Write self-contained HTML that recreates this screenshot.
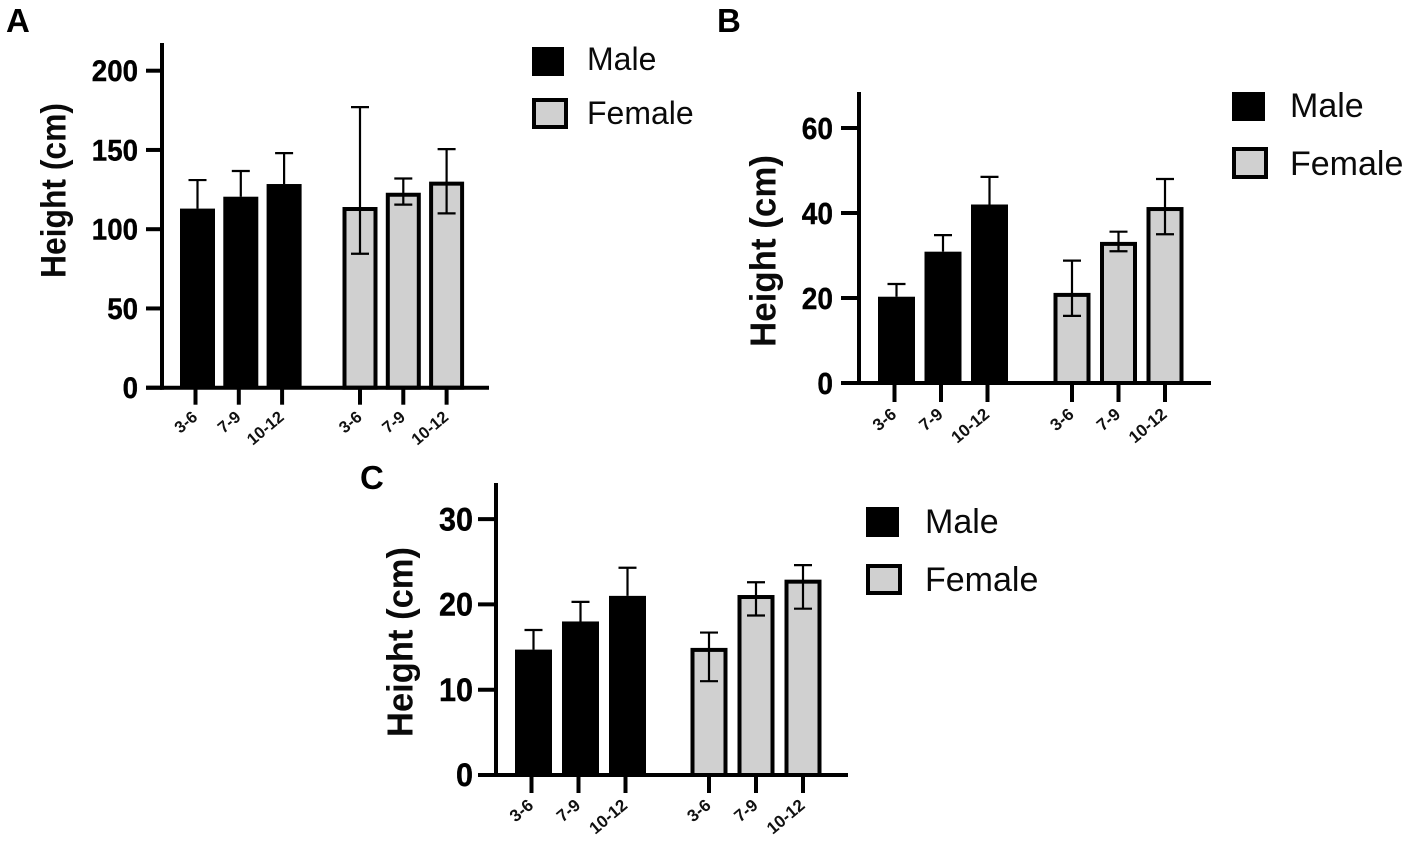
<!DOCTYPE html>
<html lang="en">
<head>
<meta charset="utf-8">
<title>Height by age group and sex</title>
<style>
  html, body { margin: 0; padding: 0; background: #fff; }
  svg { display: block; font-family: "Liberation Sans", Arial, sans-serif; }
  .panel-letter { font-weight: 700; font-size: 33px; fill: #000; }
  .legend-text { font-size: 34px; fill: #0a0a0a; }
  .legend-text-a { font-size: 32px; fill: #0a0a0a; }
</style>
</head>
<body>
<svg id="figure" xmlns="http://www.w3.org/2000/svg" width="1418" height="854" viewBox="0 0 1418 854">
  <rect x="0" y="0" width="1418" height="854" fill="#fff"/>
  <text class="panel-letter" x="6" y="32">A</text>
  <text class="panel-letter" x="717" y="32">B</text>
  <text class="panel-letter" x="360" y="489">C</text>

  <g>
    <rect x="532" y="47" width="32" height="29" fill="#000"/>
    <text class="legend-text-a" x="587" y="70">Male</text>
    <rect x="534" y="100" width="32" height="27" fill="#d0d0d0" stroke="#000" stroke-width="4"/>
    <text class="legend-text-a" x="587" y="124">Female</text>
  </g>
  <g>
    <rect x="1232" y="92" width="33" height="29" fill="#000"/>
    <text class="legend-text" x="1290" y="117">Male</text>
    <rect x="1234" y="149" width="32" height="28" fill="#d0d0d0" stroke="#000" stroke-width="4"/>
    <text class="legend-text" x="1290" y="175">Female</text>
  </g>
  <g>
    <rect x="866" y="507" width="33" height="30" fill="#000"/>
    <text class="legend-text" x="925" y="533">Male</text>
    <rect x="868" y="566" width="32" height="27" fill="#d0d0d0" stroke="#000" stroke-width="4"/>
    <text class="legend-text" x="925" y="591">Female</text>
  </g>
</svg>
<script>
// ---- data ----
const ageGroups = ['3-6', '7-9', '10-12'];
const yAxisTitle = 'Height (cm)';

const ticksA = [0, 50, 100, 150, 200];
const maleA = [113, 120.5, 128.5];
const maleUpperA = [131, 136.7, 148];
const femaleA = [114, 123, 130];
const femaleUpperA = [177, 132, 150.5];
const femaleLowerA = [84.5, 115.5, 110];

const ticksB = [0, 20, 40, 60];
const maleB = [20.3, 30.9, 42];
const maleUpperB = [23.3, 34.8, 48.5];
const femaleB = [21.2, 33.2, 41.4];
const femaleUpperB = [28.8, 35.6, 48];
const femaleLowerB = [15.8, 31, 35];

const ticksC = [0, 10, 20, 30];
const maleC = [14.7, 18, 21];
const maleUpperC = [17, 20.3, 24.3];
const femaleC = [14.9, 21.1, 22.9];
const femaleUpperC = [16.7, 22.6, 24.6];
const femaleLowerC = [11, 18.7, 19.5];

const NS = 'http://www.w3.org/2000/svg';
const root = document.getElementById('figure');

function make(tag, parent, props, text) {
  const el = document.createElementNS(NS, tag);
  Object.keys(props).forEach(function (k) { el.setAttribute(k, props[k]); });
  if (text !== undefined) el.textContent = text;
  parent.appendChild(el);
  return el;
}

function drawPanel(p) {
  const g = make('g', root, {});
  
  

  const yScale = function (v) { return p.y0 - (v - p.ticks[0]) * p.pxPerUnit; };
  const maleX = function (i) { return p.maleStart + i * p.step; };
  const femaleX = function (i) { return p.femaleStart + i * p.step; };

  // male bars
  p.male.forEach(function (v, i) {
    const cx = maleX(i);
    const bar = make('rect', g, { x: cx - p.barW / 2, y: yScale(v), width: p.barW, height: p.y0 - yScale(v), fill: '#000' });
    
    
    const err = make('path', g, {
      d: 'M' + cx + ' ' + yScale(v) + 'V' + yScale(p.maleUpper[i]) + 'M' + (cx - p.cap) + ' ' + yScale(p.maleUpper[i]) + 'H' + (cx + p.cap),
      stroke: '#000', 'stroke-width': 2.2, fill: 'none'
    });
    
    
  });

  // female bars
  p.female.forEach(function (v, i) {
    const cx = femaleX(i);
    const bar = make('rect', g, { x: cx - p.barW / 2 + 2, y: yScale(v) + 2, width: p.barW - 4, height: p.y0 - yScale(v) - 2, fill: '#d0d0d0', stroke: '#000', 'stroke-width': 4 });
    
    
    const up = yScale(p.femaleUpper[i]);
    const lo = yScale(p.femaleLower[i]);
    const err = make('path', g, {
      d: 'M' + cx + ' ' + up + 'V' + lo + 'M' + (cx - p.cap) + ' ' + up + 'H' + (cx + p.cap) + 'M' + (cx - p.cap) + ' ' + lo + 'H' + (cx + p.cap),
      stroke: '#000', 'stroke-width': 2.2, fill: 'none'
    });
    
    
  });

  // axes
  const yAxis = make('line', g, { x1: p.axisX, x2: p.axisX, y1: p.axisTop, y2: p.y0 + 2, stroke: '#000', 'stroke-width': 4 });
  
  
  const xAxis = make('line', g, { x1: p.xStart, x2: p.xEnd, y1: p.y0, y2: p.y0, stroke: '#000', 'stroke-width': 4 });
  
  

  // y ticks
  p.ticks.forEach(function (t) {
    const y = yScale(t);
    const tick = make('line', g, { x1: p.xStart, x2: p.axisX, y1: y, y2: y, stroke: '#000', 'stroke-width': 4 });
    
    
    const s = String(t);
    const label = make('text', g, {
      x: p.xStart - p.labelGap, y: y + p.tickFont * 0.35, 'text-anchor': 'end', 'font-size': p.tickFont, 'font-weight': 700, fill: '#000',
      textLength: s.length * p.digitW, lengthAdjust: 'spacingAndGlyphs', stroke: '#000', 'stroke-width': 0.4
    }, s);
    
    
  });

  // x ticks
  const placeXTick = function (cx) {
    const tick = make('line', g, { x1: cx, x2: cx, y1: p.y0, y2: p.y0 + p.tickLen, stroke: '#000', 'stroke-width': 4 });
    
    
  };
  const placeXLabel = function (cx, text) {
    const lx = cx + 3;
    const ly = p.y0 + p.tickLen + 14;
    const label = make('text', g, { x: lx, y: ly, 'text-anchor': 'end', 'font-size': p.xLabelFont, 'font-weight': 700, fill: '#111', transform: 'rotate(-40 ' + lx + ' ' + ly + ')' }, text);
    
    
  };
  ageGroups.forEach(function (name, i) {
    placeXTick(maleX(i) + p.maleTickShift);
    placeXLabel(maleX(i) + p.maleTickShift, name);
    placeXTick(femaleX(i));
    placeXLabel(femaleX(i), name);
  });

  // y title
  const title = make('text', g, {
    x: p.titleX, y: p.titleY, 'text-anchor': 'middle', 'font-size': p.titleFont, 'font-weight': 700, fill: '#0a0a0a',
    textLength: p.titleLen, lengthAdjust: 'spacingAndGlyphs',
    transform: 'rotate(-90 ' + p.titleX + ' ' + p.titleY + ')'
  }, yAxisTitle);
  
  
}

drawPanel({
  ticks: ticksA, male: maleA, maleUpper: maleUpperA, female: femaleA, femaleUpper: femaleUpperA, femaleLower: femaleLowerA,
  y0: 387.7, pxPerUnit: 1.585, axisX: 162, axisTop: 43, xStart: 146, xEnd: 489,
  maleStart: 197.5, femaleStart: 360, step: 43.3, barW: 35, cap: 9, maleTickShift: -2, tickLen: 17,
  tickFont: 30, digitW: 15.4, labelGap: 8, xLabelFont: 16.5, titleX: 65.5, titleY: 190.5, titleFont: 35, titleLen: 175
});
drawPanel({
  ticks: ticksB, male: maleB, maleUpper: maleUpperB, female: femaleB, femaleUpper: femaleUpperB, femaleLower: femaleLowerB,
  y0: 383, pxPerUnit: 4.25, axisX: 859, axisTop: 92, xStart: 841, xEnd: 1211,
  maleStart: 896.5, femaleStart: 1072, step: 46.5, barW: 37, cap: 9, maleTickShift: -2, tickLen: 19,
  tickFont: 31, digitW: 15.6, labelGap: 8, xLabelFont: 17, titleX: 775.5, titleY: 251, titleFont: 36, titleLen: 192
});
drawPanel({
  ticks: ticksC, male: maleC, maleUpper: maleUpperC, female: femaleC, femaleUpper: femaleUpperC, femaleLower: femaleLowerC,
  y0: 775, pxPerUnit: 8.53, axisX: 496, axisTop: 483, xStart: 478, xEnd: 848,
  maleStart: 533.5, femaleStart: 709, step: 47, barW: 37, cap: 9, maleTickShift: -2, tickLen: 18,
  tickFont: 32, digitW: 17, labelGap: 5, xLabelFont: 17, titleX: 412.5, titleY: 642, titleFont: 36, titleLen: 190
});
</script>
</body>
</html>
